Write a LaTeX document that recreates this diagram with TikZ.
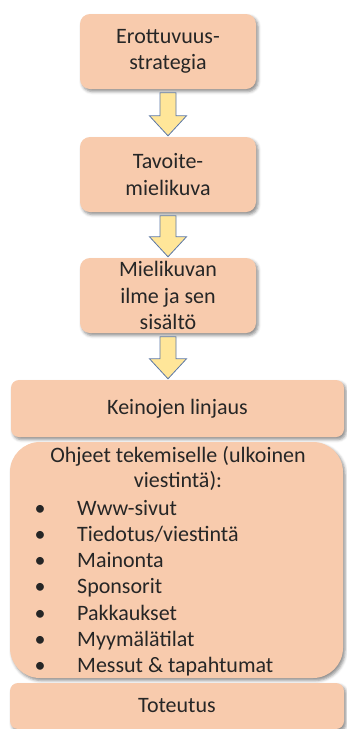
\documentclass[tikz,border=0pt]{standalone}
\usepackage{fontspec}
\setmainfont{Carlito}
\usetikzlibrary{shadows.blur,calc}
\definecolor{peach}{HTML}{F8CBAD}
\definecolor{arrowfill}{HTML}{FFE699}
\definecolor{arrowline}{HTML}{5B77A6}
\definecolor{txtcol}{HTML}{262626}
\newcommand{\blockarr}[2]{%
  \draw[blockarrow] let \p1=(#1.south), \p2=(#2.north) in
    (\x1-8pt,\y1-3.5pt) -- (\x1+8pt,\y1-3.5pt) -- (\x1+8pt,\y2+21pt) -- (\x1+18.5pt,\y2+21pt)
    -- (\x1,\y2+1pt) -- (\x1-18.5pt,\y2+21pt) -- (\x1-8pt,\y2+21pt) -- cycle;}
\begin{document}
\begin{tikzpicture}[x=1pt,y=-1pt,
  box/.style={fill=peach, draw=none, rounded corners=10pt,
    blur shadow={shadow xshift=2pt, shadow yshift=-2.5pt, shadow blur radius=3pt, shadow opacity=45},
    inner sep=0pt, text=txtcol, align=center, font=\fontsize{22}{26.5}\selectfont},
  txt/.style={inner sep=0pt, text=txtcol, font=\fontsize{22}{26.5}\selectfont},
  blockarrow/.style={fill=arrowfill, draw=arrowline, line width=0.8pt, line join=miter}
]
\useasboundingbox (0,0) rectangle (346,729);
\node[box, minimum width=176pt, minimum height=75pt] (b1) at (168,51.5) {Erottuvuus-\\strategia};
\node[box, minimum width=176pt, minimum height=75pt] (b2) at (168,174.5) {Tavoite-\\mielikuva};
\node[box, minimum width=176pt, minimum height=75pt] (b3) at (168,295.5) {Mielikuvan\\ilme ja sen\\sisältö};
\node[box, rounded corners=8pt, minimum width=333pt, minimum height=57pt] (b4) at (177.5,408.5) {Keinojen linjaus};
\node[box, rounded corners=30pt, minimum width=333pt, minimum height=236pt] (b5) at (176.5,560) {};
\node[box, rounded corners=8pt, minimum width=334pt, minimum height=46pt] (b6) at (177,706) {Toteutus};
\blockarr{b1}{b2}
\blockarr{b2}{b3}
\blockarr{b3}{b4}
\node[txt, anchor=base] (h1) at (178,462) {Ohjeet tekemiselle (ulkoinen};
\node[txt, anchor=base] (h2) at (178,487) {viestintä):};
\foreach \t [count=\i] in {Www-sivut, Tiedotus/viestintä, Mainonta, Sponsorit, Pakkaukset, Myymälätilat, Messut \& tapahtumat}{
  \node[txt, anchor=base] (bul\i) at (40,{515+26.3*(\i-1)}) {•};
  \node[txt, anchor=base west] (it\i) at (77,{515+26.3*(\i-1)}) {\t};
}
\end{tikzpicture}
\end{document}
